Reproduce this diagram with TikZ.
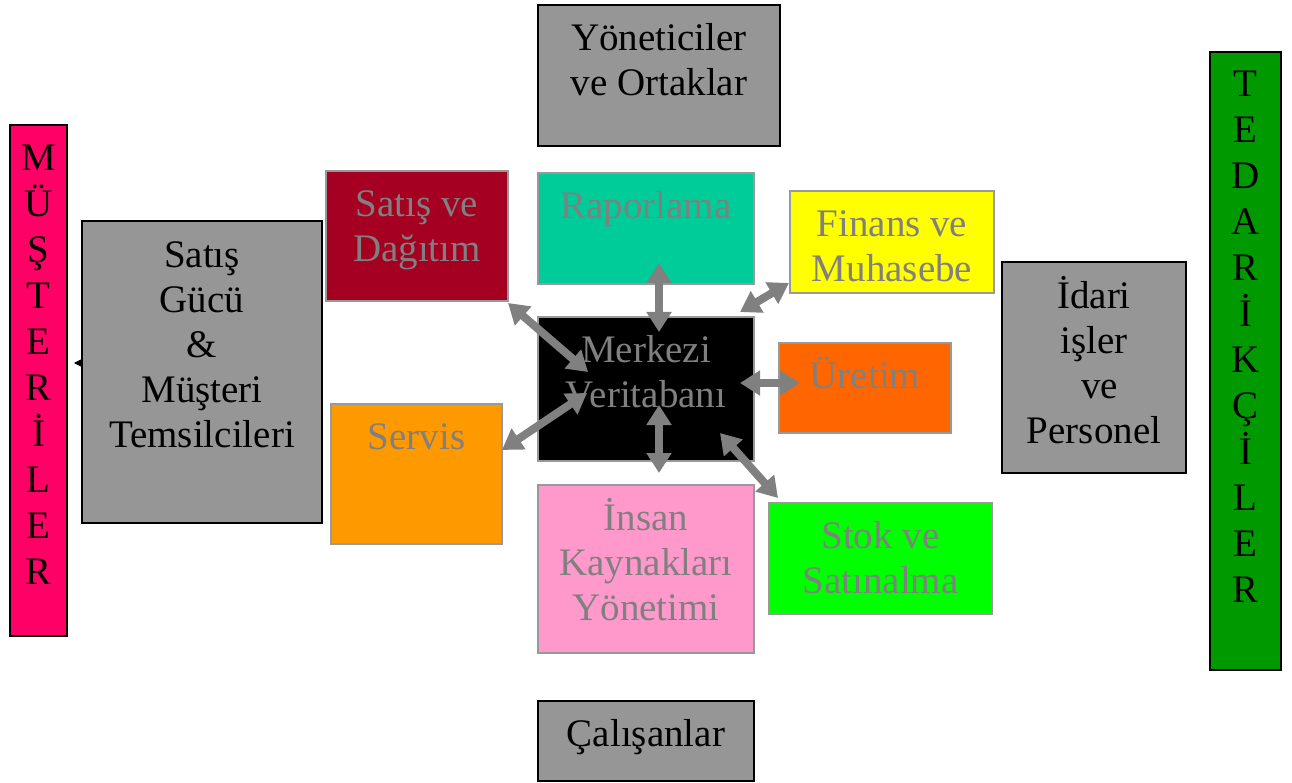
\documentclass[tikz,border=0pt]{standalone}
\usepackage{fontspec}
\setmainfont{Liberation Serif}
\usetikzlibrary{arrows.meta,calc}
\definecolor{cgray}{HTML}{969696}
\definecolor{tgray}{HTML}{808080}
\definecolor{bgray}{HTML}{999999}
\definecolor{cmag}{HTML}{FF0066}
\definecolor{cdred}{HTML}{A50021}
\definecolor{cteal}{HTML}{00CC99}
\definecolor{cyel}{HTML}{FFFF00}
\definecolor{corg}{HTML}{FF6600}
\definecolor{corg2}{HTML}{FF9900}
\definecolor{cpink}{HTML}{FF99CC}
\definecolor{cgreen}{HTML}{00FF00}
\definecolor{cdgreen}{HTML}{009900}
\newcommand\tstrut{\rule{0pt}{40pt}}
\tikzset{
  box/.style={draw=black, line width=1.5pt, inner sep=0pt, outer sep=0pt, anchor=north west},
  cbox/.style={box, draw=bgray, line width=1.3pt},
  txt/.style={font=\fontsize{39}{45}\selectfont, align=center, inner sep=0pt, anchor=north, text=black},
  ctxt/.style={txt, text=tgray},
  vtxt/.style={font=\fontsize{39}{46}\selectfont, align=center, inner sep=0pt, anchor=north, text=black},
  biarrow/.style={draw=tgray, line width=8pt, {Triangle[length=20pt,width=24pt]}-{Triangle[length=20pt,width=24pt]}}
}
\begin{document}
\begin{tikzpicture}[x=1pt,y=-1pt]
\useasboundingbox (0,0) rectangle (1292,783);
% boxes
\node[box, fill=cmag, minimum width=57pt, minimum height=511pt] (mus) at (10,125) {};
\node[box, fill=cgray, minimum width=240pt, minimum height=302pt] (gucu) at (82,221) {};
\node[cbox, fill=cdred, minimum width=182pt, minimum height=130pt] (sd) at (326,171) {};
\node[cbox, fill=cteal, minimum width=216pt, minimum height=111pt] (rapor) at (538,173) {};
\node[box, fill=cgray, minimum width=242pt, minimum height=141pt] (yon) at (538,5) {};
\node[cbox, fill=cyel, minimum width=204pt, minimum height=102pt] (finans) at (790,191) {};
\node[box, fill=cgray, minimum width=184pt, minimum height=211pt] (idari) at (1002,262) {};
\node[box, fill=cdgreen, minimum width=71pt, minimum height=618pt] (ted) at (1210,52) {};
\node[cbox, fill=black, minimum width=216pt, minimum height=144pt] (merkezi) at (538,317) {};
\node[cbox, fill=corg, minimum width=172pt, minimum height=90pt] (uretim) at (779,343) {};
\node[cbox, fill=corg2, minimum width=171pt, minimum height=140pt] (servis) at (331,404) {};
\node[cbox, fill=cpink, minimum width=216pt, minimum height=168pt] (insan) at (538,485) {};
\node[cbox, fill=cgreen, minimum width=223pt, minimum height=111pt] (stok) at (769,503) {};
\node[box, fill=cgray, minimum width=216pt, minimum height=80pt] (cal) at (538,701) {};
% texts
\node[vtxt] (mus-t) at ($(mus.north)+(0,5)$) {\tstrut M\\Ü\\Ş\\T\\E\\R\\İ\\L\\E\\R};
\node[vtxt] (ted-t) at ($(ted.north)+(0,4)$) {\tstrut T\\E\\D\\A\\R\\İ\\K\\Ç\\İ\\L\\E\\R};
\node[txt] (gucu-t) at ($(gucu.north)+(0,6)$) {\tstrut Satış\\Gücü\\\&\\Müşteri\\Temsilcileri};
\node[ctxt] (sd-t) at ($(sd.north)+(0,5)$) {\tstrut Satış ve\\Dağıtım};
\node[ctxt] (rapor-t) at ($(rapor.north)+(0,5)$) {\tstrut Raporlama};
\node[txt] (yon-t) at ($(yon.north)+(0,5)$) {\tstrut Yöneticiler\\ve Ortaklar};
\node[ctxt] (finans-t) at ($(finans.north)+(0,5)$) {\tstrut Finans ve\\Muhasebe};
\node[txt] (idari-t) at ($(idari.north)+(0,6)$) {\tstrut İdari\\işler\\\hspace*{0.3em}ve\\Personel};
\node[ctxt] (merkezi-t) at ($(merkezi.north)+(0,5)$) {\tstrut Merkezi\\Veritabanı};
\node[ctxt] (uretim-t) at ($(uretim.north)+(0,5)$) {\tstrut Üretim};
\node[ctxt] (servis-t) at ($(servis.north)+(0,5)$) {\tstrut Servis};
\node[ctxt] (insan-t) at ($(insan.north)+(0,5)$) {\tstrut İnsan\\Kaynakları\\Yönetimi};
\node[ctxt] (stok-t) at ($(stok.north)+(0,5)$) {\tstrut Stok ve\\Satınalma};
\node[txt] (cal-t) at ($(cal.north)+(0,5)$) {\tstrut Çalışanlar};
% arrows
\draw[biarrow] ($(sd.south east)+(0,2)$) -- ($(merkezi.north west)+(50,55)$);
\draw[biarrow] ($(servis.north east)+(0,46)$) -- ($(merkezi.north west)+(49,76)$);
\draw[biarrow] ($(rapor.south)+(13,-21)$) -- ($(merkezi.north)+(13,15)$);
\draw[biarrow] ($(merkezi.north east)+(-14,-5)$) -- ($(finans.south west)+(-1,-10)$);
\draw[biarrow] ($(merkezi.east)+(-14,-6)$) -- ($(uretim.west)+(21,-5)$);
\draw[biarrow] ($(merkezi.south)+(13,-56)$) -- ($(insan.north)+(13,-12)$);
\draw[biarrow] ($(merkezi.south east)+(-34,-28)$) -- ($(stok.north west)+(9,-5)$);
% small arrow toward customers
\coordinate (smalltip) at ($(mus.north east)+(7,238)$);
\draw[black, line width=0.8pt, -{Triangle[length=7pt,width=7pt]}] ($(gucu.north west)+(0,142)$) -- (smalltip);
\end{tikzpicture}
\end{document}
